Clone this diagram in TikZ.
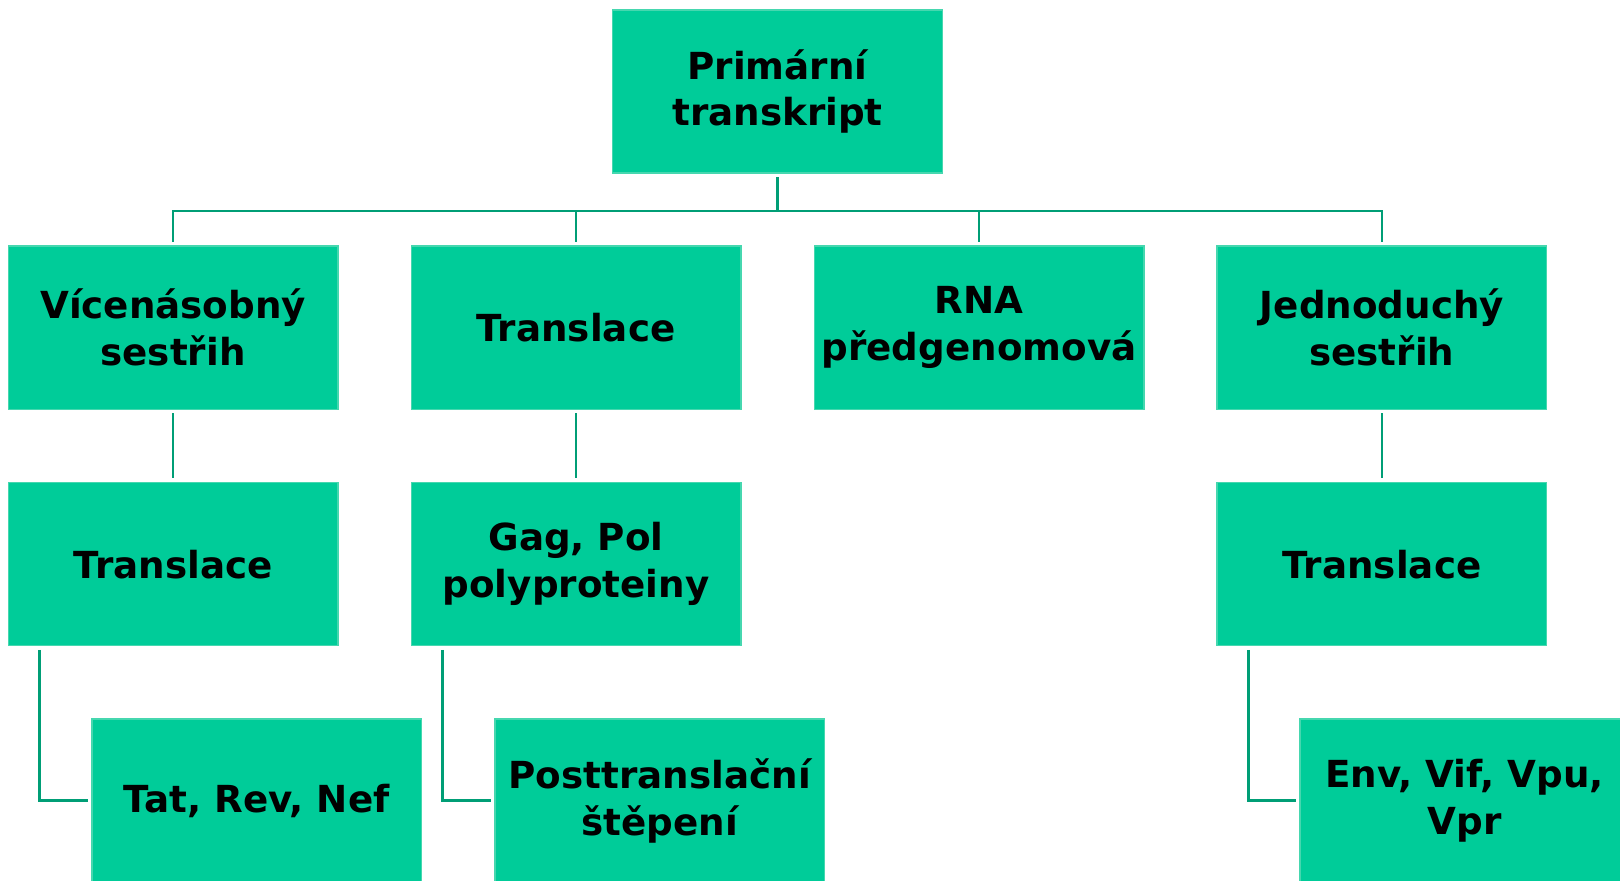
\documentclass[tikz,border=0pt]{standalone}
\usepackage{fontspec}
\usepackage{tikz}
\usetikzlibrary{positioning}
\newfontfamily\boxfont{DejaVu Sans}
\definecolor{boxgreen}{RGB}{0,204,153}
\definecolor{boxedge}{RGB}{70,215,175}
\definecolor{linkgreen}{RGB}{0,158,118}

\begin{document}
\begin{tikzpicture}[
  box/.style={fill=boxgreen,draw=boxedge,line width=0.4pt,inner sep=0pt,
    minimum width=3.296cm,minimum height=1.632cm,align=center,
    font=\boxfont\bfseries\fontsize{10.6}{13.3}\selectfont},
  link/.style={draw=linkgreen,line width=0.7pt,shorten <=1pt,shorten >=1pt}]
\clip (0,0) rectangle (16.2,-8.8);
%\draw[gray] (0,0) rectangle (16.2,-8.8);
\node at (7.775,-0.914) [box](prim){Primární\\transkript};
\node at (1.731,-3.276) [box](vic){Vícenásobný\\sestřih};
\node at (5.760,-3.276) [box](trans){Translace};
\node at (9.790,-3.276) [box](rna){RNA\\předgenomová};
\node at (13.819,-3.276) [box](jedn){Jednoduchý\\sestřih};
\node at (1.731,-5.641) [box](vtrans){Translace};
\node at (5.760,-5.641) [box](gag){Gag, Pol\\polyproteiny};
\node at (13.819,-5.641) [box](jtrans){Translace};
\node at (2.568,-8.006) [box](tat){Tat, Rev, Nef};
\node at (6.597,-8.006) [box](post){Posttranslační\\štěpení};
\node at (14.646,-8.006) [box](env){Env, Vif, Vpu,\\Vpr};
% primary transcript to the four branches
\draw[link] (prim.south) -- ++(0,-0.372) -| (vic.north);
\draw[link] (prim.south) -- ++(0,-0.372) -| (trans.north);
\draw[link] (prim.south) -- ++(0,-0.372) -| (rna.north);
\draw[link] (prim.south) -- ++(0,-0.372) -| (jedn.north);
% second level
\draw[link] (vic.south) -- (vtrans.north);
\draw[link] (trans.south) -- (gag.north);
\draw[link] (jedn.south) -- (jtrans.north);
% third level
\draw[link] ([xshift=0.32cm]vtrans.south west) |- (tat.west);
\draw[link] ([xshift=0.32cm]gag.south west) |- (post.west);
\draw[link] ([xshift=0.32cm]jtrans.south west) |- (env.west);
\end{tikzpicture}
\end{document}
